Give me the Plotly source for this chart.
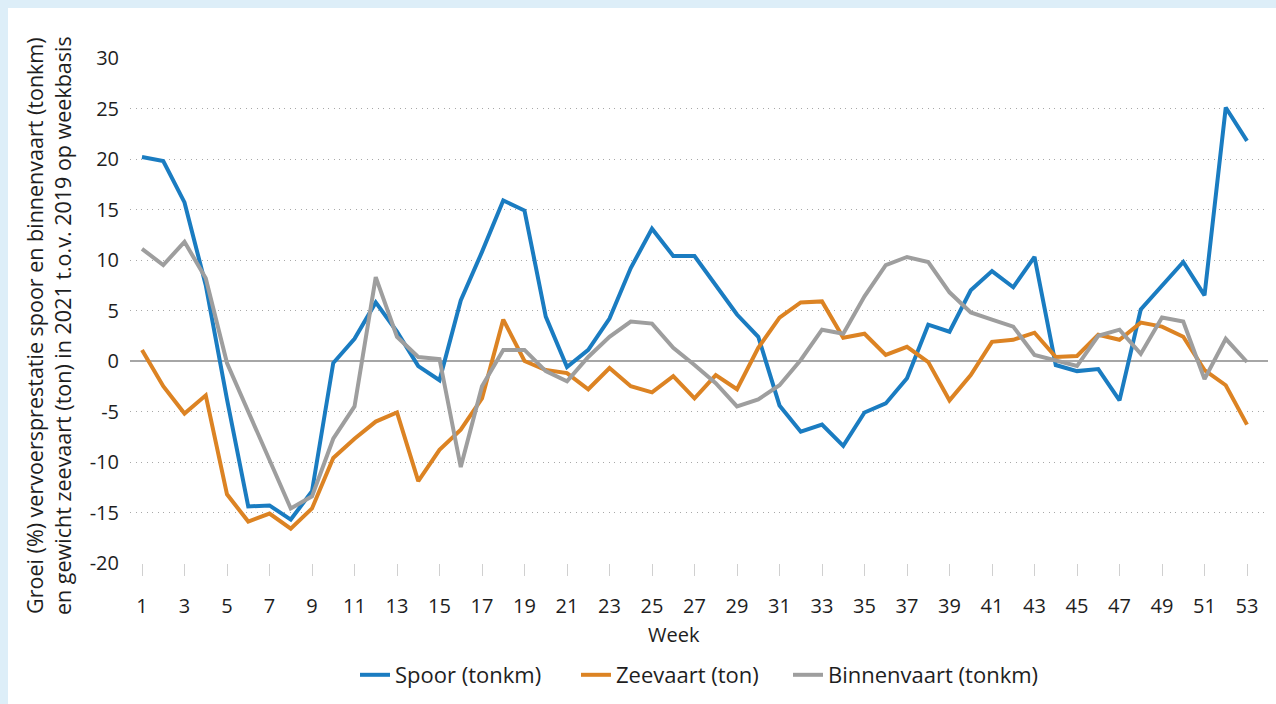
import plotly.graph_objects as go

weeks = list(range(1, 54))
tick_weeks = list(range(1, 54, 2))
y_ticks = [-20, -15, -10, -5, 0, 5, 10, 15, 20, 25, 30]

spoor = [20.2, 19.8, 15.7, 7.5, -3.8, -14.4, -14.3, -15.7, -12.9, -0.2,
         2.2, 5.8, 2.9, -0.5, -1.9, 6.0, 10.8, 15.9, 14.9, 4.4,
         -0.6, 1.1, 4.2, 9.2, 13.1, 10.4, 10.4, 7.5, 4.6, 2.4,
         -4.4, -7.0, -6.3, -8.4, -5.1, -4.2, -1.7, 3.6, 2.9, 7.0,
         8.9, 7.3, 10.3, -0.4, -1.0, -0.8, -3.9, 5.1, 7.5, 9.8,
         6.5, 25.1, 21.8]
zeevaart = [1.1, -2.5, -5.2, -3.4, -13.2, -15.9, -15.1, -16.6, -14.6, -9.6,
            -7.7, -6.0, -5.1, -11.9, -8.8, -6.8, -3.7, 4.1, 0.0, -0.9,
            -1.2, -2.8, -0.7, -2.5, -3.1, -1.5, -3.7, -1.4, -2.8, 1.3,
            4.3, 5.8, 5.9, 2.3, 2.7, 0.6, 1.4, -0.1, -3.9, -1.4,
            1.9, 2.1, 2.8, 0.4, 0.5, 2.6, 2.1, 3.8, 3.4, 2.4,
            -0.9, -2.4, -6.3]
binnenvaart = [11.1, 9.5, 11.8, 8.2, -0.2, -5.0, -9.8, -14.6, -13.4, -7.7,
               -4.5, 8.3, 2.4, 0.4, 0.2, -10.5, -2.5, 1.1, 1.1, -1.0,
               -2.0, 0.4, 2.4, 3.9, 3.7, 1.3, -0.4, -2.2, -4.5, -3.8,
               -2.4, 0.1, 3.1, 2.7, 6.4, 9.5, 10.3, 9.8, 6.8, 4.8,
               4.1, 3.4, 0.6, 0.0, -0.5, 2.5, 3.1, 0.7, 4.3, 3.9,
               -1.8, 2.2, -0.1]

series_names = ["Spoor (tonkm)", "Zeevaart (ton)", "Binnenvaart (tonkm)"]
series_colors = ["#1a7cc1", "#dc8323", "#9e9e9e"]
legend_ids = ["legend", "legend2", "legend3"]

FONT = "Open Sans"
TXT = "#1e1e1e"

fig = go.Figure()
for name, vals, col, lg in zip(series_names, [spoor, zeevaart, binnenvaart], series_colors, legend_ids):
    fig.add_trace(go.Scatter(x=weeks, y=vals, mode="lines", name=name, legend=lg,
                             line=dict(color=col, width=4)))

W, H = 1276, 704
L, R, T, B = 130, 8, 58, 141
pw, ph = W - L - R, H - T - B

def px_x(p):
    return (p - L) / pw

def px_y(p):
    return (H - B - p) / ph

def legend_at(px_left):
    return dict(orientation="h", x=px_x(px_left), xanchor="left", y=px_y(675), yanchor="middle",
                font=dict(family=FONT, size=22, color=TXT), bgcolor="rgba(0,0,0,0)")

fig.update_layout(
    width=W, height=H,
    margin=dict(l=L, r=R, t=T, b=B, pad=0),
    paper_bgcolor="#ddeef8",
    plot_bgcolor="white",
    font=dict(family=FONT, color=TXT, size=20),
    showlegend=True,
    legend=legend_at(355),
    legend2=legend_at(576),
    legend3=legend_at(788),
    shapes=[dict(type="rect", xref="paper", yref="paper", layer="below",
                 x0=px_x(8), x1=px_x(W + 5), y0=px_y(H + 5), y1=px_y(8),
                 fillcolor="white", line=dict(width=0))],
    annotations=[
        dict(text="Groei (%) vervoersprestatie spoor en binnenvaart (tonkm)<br>en gewicht zeevaart (ton) in 2021 t.o.v. 2019 op weekbasis",
             xref="paper", yref="paper", x=px_x(48), y=px_y(326), textangle=-90,
             xanchor="center", yanchor="middle", showarrow=False,
             font=dict(family=FONT, size=21.5, color=TXT)),
        dict(text="Week", xref="paper", yref="paper", x=px_x(674), y=px_y(634),
             xanchor="center", yanchor="middle", showarrow=False,
             font=dict(family=FONT, size=20, color=TXT)),
    ],
)

fig.update_xaxes(
    range=[1 - 12 / 21.25, 1 - 12 / 21.25 + pw / 21.25],
    tickmode="array", tickvals=tick_weeks, ticktext=[str(t) for t in tick_weeks],
    showgrid=False, zeroline=False, showline=False,
    ticks="outside", ticklen=12, tickcolor="#d0d0d0", tickwidth=1,
    ticklabelstandoff=13,
    tickfont=dict(family=FONT, size=20, color=TXT),
)
fig.update_yaxes(
    range=[-20, 30], tickmode="array", tickvals=y_ticks, ticktext=[str(v) for v in y_ticks],
    showgrid=True, gridcolor="#a8a8a8", gridwidth=1, griddash="1px,4.5px",
    zeroline=True, zerolinecolor="#a6a6a6", zerolinewidth=2,
    showline=False, ticks="", ticklabelstandoff=10,
    tickfont=dict(family=FONT, size=20, color=TXT),
)

fig.write_html("out.html", config={"displayModeBar": False},
               post_script="document.body.style.margin='0';document.body.style.overflow='hidden';")
